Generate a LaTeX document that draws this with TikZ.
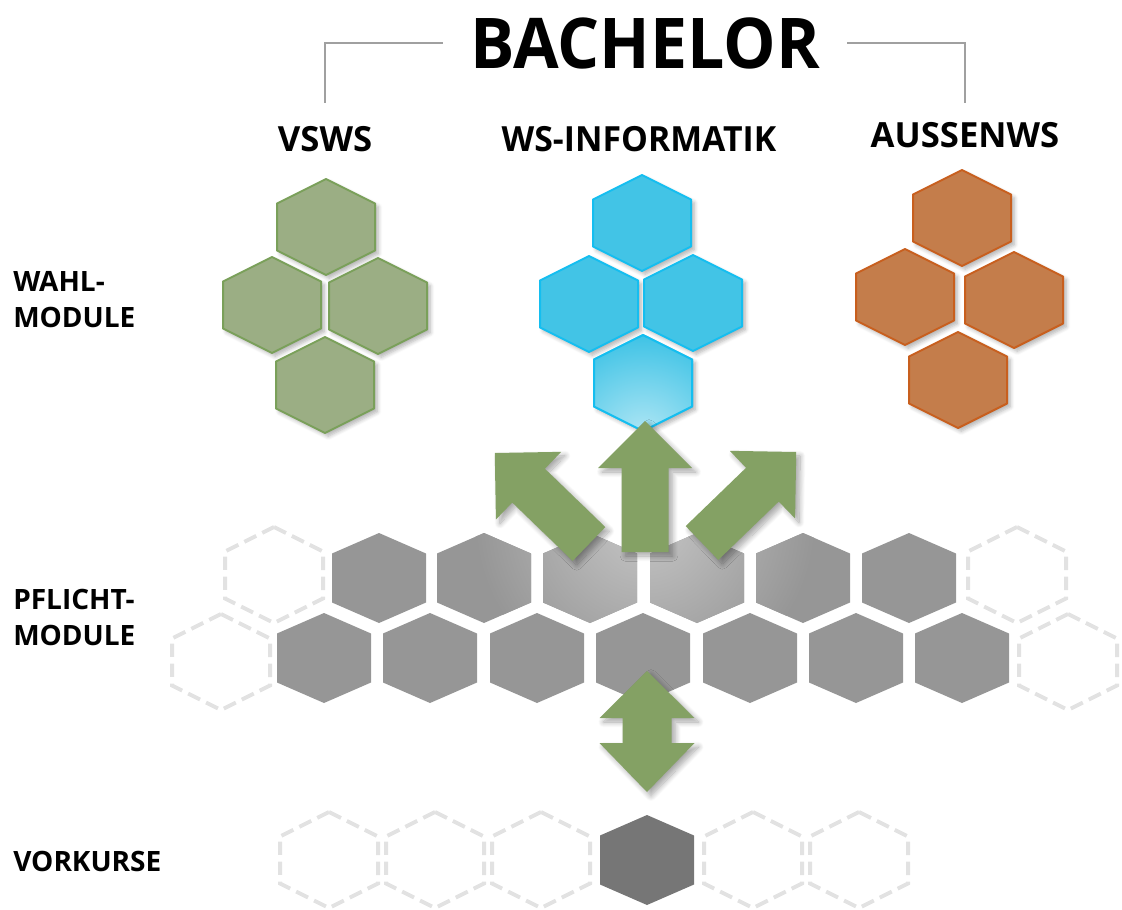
\documentclass[tikz,border=0pt]{standalone}
\usepackage{fontspec}
\setmainfont{Open Sans}
\usetikzlibrary{shadows.blur}

\definecolor{vswsfill}{RGB}{155,174,132}
\definecolor{vswsline}{RGB}{122,160,90}
\definecolor{infofill}{RGB}{66,196,230}
\definecolor{infoline}{RGB}{20,190,240}
\definecolor{aussenfill}{RGB}{196,125,75}
\definecolor{aussenline}{RGB}{200,95,30}
\definecolor{pflgray}{RGB}{150,150,150}
\definecolor{vorkgray}{RGB}{118,118,118}
\definecolor{pfeilgreen}{RGB}{132,161,100}
\definecolor{leergray}{RGB}{226,226,226}
\definecolor{klammergray}{RGB}{160,160,160}

% hexagon outlines around centre (#1,#2)
\newcommand\wahlhex[2]{(#1,#2-48) -- (#1+49,#2-23.5) -- (#1+49,#2+23.5) -- (#1,#2+48) -- (#1-49,#2+23.5) -- (#1-49,#2-23.5) -- cycle}
\newcommand\pflichthex[2]{(#1,#2-45) -- (#1+47,#2-24.5) -- (#1+47,#2+24.5) -- (#1,#2+45) -- (#1-47,#2+24.5) -- (#1-47,#2-24.5) -- cycle}

\tikzset{
  schatten/.style={blur shadow={shadow xshift=2.5pt, shadow yshift=-2.5pt, shadow blur radius=3pt, shadow opacity=30, shadow blur steps=6}},
  wahl/.style={line width=1.5pt, line join=round, schatten},
  vsws/.style={wahl, draw=vswsline, fill=vswsfill},
  info/.style={wahl, draw=infoline, fill=infofill},
  aussen/.style={wahl, draw=aussenline, fill=aussenfill},
  pflicht/.style={fill=pflgray},
  vorkurs/.style={fill=vorkgray},
  leer/.style={draw=leergray, line width=3pt, dash pattern=on 10pt off 5pt},
  pfeil/.style={fill=pfeilgreen, blur shadow={shadow xshift=3pt, shadow yshift=-3pt, shadow blur radius=4pt, shadow opacity=35, shadow blur steps=12}},
  klammer/.style={draw=klammergray, line width=1.1pt},
  spalte/.style={font=\bfseries\fontsize{26}{30}\selectfont, inner sep=0pt, anchor=base},
  zeile/.style={font=\bfseries\fontsize{21}{27}\selectfont, inner sep=0pt, anchor=base west, align=left},
  % pics are drawn with y pointing up
  pics/pfeil/.style={code={
    \fill[pfeil] (-23.5,0) -- (23.5,0) -- (23.5,84) -- (47,84) -- (0,131) -- (-47,84) -- (-23.5,84) -- cycle;}},
  pics/doppelpfeil/.style={code={
    \fill[pfeil] (0,60.5) -- (47.5,13.5) -- (24.5,13.5) -- (24.5,-11.5) -- (47.5,-11.5) -- (0,-60.5) -- (-47.5,-11.5) -- (-24.5,-11.5) -- (-24.5,13.5) -- (-47.5,13.5) -- cycle;}}
}

\begin{document}
\begin{tikzpicture}[x=0.75pt,y=0.75pt,yscale=-1,xscale=1]
\useasboundingbox (0,0) rectangle (1122,910);

% Text Nodes
\node[font=\bfseries\fontsize{52.5}{60}\selectfont, inner sep=0pt, anchor=base] (title) at (645,68) {\scalebox{0.945}[1]{BACHELOR}};
\node[spalte] (vsws) at (325,151) {VSWS};
\node[spalte] (wsinf) at (639,151) {\scalebox{0.975}[1]{WS-INFORMATIK}};
\node[spalte] (aussenws) at (965,147) {AUSSENWS};
\node[zeile] (wahl) at (13,327) {WAHL-\\MODULE};
\node[zeile] (pflicht) at (13,645) {PFLICHT-\\MODULE};
\node[zeile] (vorkurse) at (13,871) {VORKURSE};

% bracket
\coordinate (klammerL) at (325,103);
\coordinate (klammerR) at (965,103);
\draw[klammer] (title.west) ++(-27,0) -| (klammerL);
\draw[klammer] (title.east) ++(27,0) -| (klammerR);

% Wahlmodule VSWS
\draw[vsws] \wahlhex{326}{227};
\draw[vsws] \wahlhex{272}{305};
\draw[vsws] \wahlhex{378}{306};
\draw[vsws] \wahlhex{325}{385};
% Wahlmodule WS-Informatik
\draw[info] \wahlhex{642}{223};
\draw[info] \wahlhex{589}{304};
\draw[info] \wahlhex{693}{303};
\draw[info] \wahlhex{643}{383};
\begin{scope}
\clip \wahlhex{643}{383};
\shade[inner color=infofill!40!white, outer color=infofill] (643,438) circle (100);
\end{scope}
\draw[infoline, line width=1.5pt, line join=round] \wahlhex{643}{383};
% Wahlmodule Aussen-WS
\draw[aussen] \wahlhex{962}{218};
\draw[aussen] \wahlhex{905}{297};
\draw[aussen] \wahlhex{1014}{300};
\draw[aussen] \wahlhex{958}{380};

% Pflichtmodule, empty places
\draw[leer] \wahlhex{274}{575};
\draw[leer] \wahlhex{1017}{575};
\draw[leer] \wahlhex{221}{662};
\draw[leer] \wahlhex{1068}{662};
% Pflichtmodule, upper row
\fill[pflicht] \pflichthex{379}{578};
\fill[pflicht] \pflichthex{484}{578};
\fill[pflicht] \pflichthex{590}{578};
\fill[pflicht] \pflichthex{697}{578};
\fill[pflicht] \pflichthex{803}{578};
\fill[pflicht] \pflichthex{909}{578};
% Pflichtmodule, lower row
\fill[pflicht] \pflichthex{324}{658};
\fill[pflicht] \pflichthex{430}{658};
\fill[pflicht] \pflichthex{537}{658};
\fill[pflicht] \pflichthex{643}{658};
\fill[pflicht] \pflichthex{750}{658};
\fill[pflicht] \pflichthex{856}{658};
\fill[pflicht] \pflichthex{962}{658};
% light under the arrows
\begin{scope}
\clip \pflichthex{484}{578} \pflichthex{590}{578} \pflichthex{697}{578} \pflichthex{803}{578};
\shade[inner color=pflgray!55!white, outer color=pflgray] (645,522) circle (170);
\end{scope}

% Vorkurse
\draw[leer] \wahlhex{329}{860};
\draw[leer] \wahlhex{435}{860};
\draw[leer] \wahlhex{541}{860};
\draw[leer] \wahlhex{753}{860};
\draw[leer] \wahlhex{859}{860};
\fill[vorkurs] \pflichthex{647}{860};

% Arrows
\pic (links) [rotate=46] at (589,544) {pfeil};
\pic (mitte) at (645,552) {pfeil};
\pic (rechts) [rotate=-46] at (702,543) {pfeil};
\pic (unten) at (647,731.5) {doppelpfeil};

\end{tikzpicture}
\end{document}
